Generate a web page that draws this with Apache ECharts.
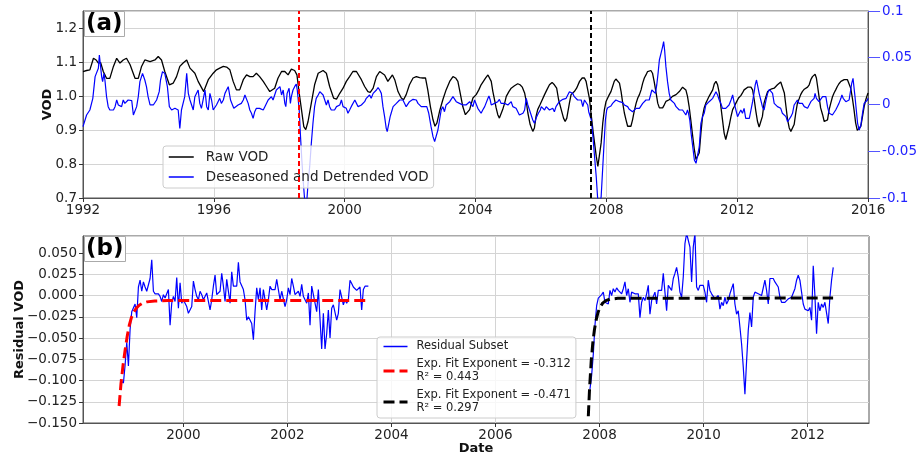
<!DOCTYPE html>
<html><head><meta charset="utf-8">
<script src="https://cdn.jsdelivr.net/npm/echarts@6/dist/echarts.min.js"></script>
<style>html,body{margin:0;padding:0;background:#fff}#c{width:920px;height:457px}</style>
</head><body><div id="c"></div>
<script>
// ---------- DATA ----------
// Panel (a): raw VOD, [decimal year, VOD] (left axis)
const rawVOD = [
[1992.0,1.072],[1992.11,1.075],[1992.21,1.077],[1992.32,1.111],[1992.40,1.106],[1992.47,1.097],[1992.54,1.098],[1992.62,1.072],[1992.72,1.052],[1992.82,1.052],[1992.93,1.087],[1993.03,1.111],[1993.13,1.097],[1993.23,1.106],[1993.33,1.111],[1993.44,1.092],[1993.59,1.052],[1993.69,1.052],[1993.79,1.087],[1993.89,1.106],[1994.05,1.101],[1994.20,1.106],[1994.30,1.116],[1994.40,1.106],[1994.50,1.072],[1994.64,1.033],[1994.76,1.038],[1994.86,1.057],[1994.96,1.087],[1995.06,1.097],[1995.17,1.106],[1995.27,1.082],[1995.42,1.067],[1995.52,1.043],[1995.69,1.013],[1995.83,1.048],[1995.98,1.067],
[1996.08,1.077],[1996.18,1.082],[1996.29,1.087],[1996.39,1.085],[1996.44,1.089],[1996.49,1.077],[1996.59,1.043],[1996.69,1.018],[1996.74,1.013],[1996.79,1.018],[1996.90,1.048],[1997.00,1.062],[1997.10,1.057],[1997.20,1.057],[1997.30,1.067],[1997.40,1.057],[1997.51,1.043],[1997.61,1.028],[1997.71,1.013],[1997.76,1.013],[1997.86,1.023],[1997.96,1.052],[1998.07,1.072],[1998.12,1.077],[1998.17,1.072],[1998.27,1.062],[1998.37,1.079],[1998.47,1.075],[1998.54,1.062],[1998.61,1.008],[1998.68,0.959],[1998.75,0.910],[1998.81,0.901],[1998.88,0.925],[1998.98,0.979],[1999.08,1.033],[1999.19,1.067],[1999.34,1.075],[1999.44,1.067],[1999.54,1.028],[1999.66,0.994],[1999.75,0.991],[1999.85,1.008],
[1999.95,1.023],[2000.05,1.043],[2000.15,1.057],[2000.25,1.072],[2000.36,1.072],[2000.41,1.067],[2000.51,1.048],[2000.61,1.028],[2000.71,1.013],[2000.78,1.011],[2000.87,1.023],[2000.97,1.057],[2001.07,1.072],[2001.12,1.074],[2001.22,1.062],[2001.32,1.043],[2001.37,1.048],[2001.46,1.062],[2001.53,1.048],[2001.63,1.013],[2001.73,0.994],[2001.80,0.989],[2001.88,1.004],[2001.98,1.033],[2002.09,1.053],[2002.19,1.057],[2002.29,1.054],[2002.39,1.053],[2002.47,1.053],[2002.54,1.018],[2002.62,0.969],[2002.70,0.930],[2002.76,0.911],[2002.82,0.921],[2002.90,0.955],[2003.00,0.989],[2003.10,1.018],[2003.21,1.043],[2003.31,1.057],[2003.39,1.053],[2003.46,1.043],[2003.53,1.009],[2003.61,0.969],[2003.69,0.945],[2003.74,0.940],[2003.82,0.960],[2003.92,0.994],[2004.02,1.004],
[2004.10,1.018],[2004.17,1.033],[2004.24,1.043],[2004.31,1.053],[2004.38,1.062],[2004.43,1.057],[2004.48,1.043],[2004.53,1.013],[2004.58,0.989],[2004.63,0.965],[2004.68,0.945],[2004.73,0.935],[2004.78,0.940],[2004.83,0.960],[2004.89,0.979],[2004.94,0.999],[2005.02,1.013],[2005.09,1.023],[2005.19,1.030],[2005.29,1.036],[2005.36,1.033],[2005.43,1.026],[2005.50,1.009],[2005.55,0.984],[2005.60,0.950],[2005.67,0.916],[2005.75,0.896],[2005.80,0.906],[2005.85,0.940],[2005.90,0.960],[2005.97,0.974],[2006.04,0.989],[2006.11,1.004],[2006.18,1.018],[2006.26,1.033],[2006.34,1.040],[2006.41,1.033],[2006.48,1.023],[2006.54,0.989],[2006.62,0.960],[2006.69,0.935],[2006.74,0.925],[2006.79,0.935],[2006.87,0.979],[2006.92,1.004],[2007.02,1.013],[2007.09,1.023],[2007.18,1.043],[2007.26,1.053],[2007.33,1.053],[2007.38,1.043],[2007.43,1.018],[2007.48,0.994],[2007.53,0.950],[2007.60,0.891],[2007.69,0.823],[2007.74,0.793],
[2007.84,0.862],[2007.89,0.921],[2007.94,0.960],[2007.99,0.984],[2008.04,0.994],[2008.09,1.004],[2008.14,1.013],[2008.19,1.028],[2008.24,1.043],[2008.29,1.050],[2008.35,1.048],[2008.40,1.038],[2008.45,1.013],[2008.50,0.979],[2008.55,0.950],[2008.60,0.930],[2008.65,0.911],[2008.70,0.906],[2008.75,0.911],[2008.80,0.930],[2008.85,0.955],[2008.91,0.979],[2008.96,0.994],[2009.01,1.004],[2009.06,1.018],[2009.11,1.038],[2009.16,1.053],[2009.21,1.062],[2009.26,1.072],[2009.31,1.075],[2009.36,1.075],[2009.41,1.067],[2009.46,1.043],[2009.52,1.009],[2009.57,0.979],[2009.62,0.965],[2009.67,0.962],[2009.72,0.965],[2009.77,0.974],[2009.82,0.984],[2009.92,0.989],[2010.02,0.999],[2010.13,1.004],[2010.23,1.013],[2010.33,1.026],[2010.38,1.026],[2010.43,1.018],[2010.48,0.999],[2010.53,0.969],[2010.58,0.930],[2010.64,0.881],[2010.69,0.842],[2010.74,0.813],[2010.79,0.808],[2010.84,0.833],[2010.89,0.891],[2010.94,0.940],[2010.99,0.965],[2011.04,0.979],[2011.09,0.989],[2011.14,0.999],[2011.25,1.018],[2011.30,1.036],[2011.35,1.043],[2011.40,1.033],[2011.45,1.009],[2011.50,0.969],[2011.55,0.930],[2011.60,0.891],[2011.65,0.872],[2011.70,0.877],[2011.75,0.911],[2011.81,0.940],[2011.86,0.960],[2011.91,0.969],[2011.96,0.979],[2012.04,0.994],
[2012.11,1.001],[2012.16,1.009],[2012.21,1.018],[2012.26,1.023],[2012.32,1.026],[2012.37,1.030],[2012.42,1.026],[2012.47,1.018],[2012.52,0.989],[2012.57,0.955],[2012.62,0.925],[2012.67,0.909],[2012.72,0.911],[2012.77,0.940],[2012.82,0.979],[2012.88,0.999],[2012.93,1.013],[2012.98,1.018],[2013.03,1.020],[2013.08,1.018],[2013.13,1.023],[2013.18,1.028],[2013.23,1.033],[2013.28,1.038],[2013.33,1.041],[2013.38,1.036],[2013.44,1.009],[2013.49,0.969],[2013.54,0.930],[2013.59,0.906],[2013.64,0.896],[2013.69,0.893],[2013.74,0.916],[2013.79,0.950],[2013.84,0.979],[2013.89,0.991],[2013.94,1.004],[2013.99,1.013],[2014.05,1.020],[2014.10,1.023],[2014.15,1.026],[2014.20,1.033],[2014.25,1.048],[2014.30,1.057],[2014.35,1.062],[2014.38,1.064],[2014.42,1.053],[2014.45,1.033],[2014.50,0.999],[2014.55,0.965],[2014.61,0.945],[2014.66,0.925],[2014.71,0.921],[2014.76,0.930],[2014.81,0.960],[2014.86,0.979],[2014.91,0.997],[2014.96,1.009],[2015.01,1.018],[2015.06,1.028],[2015.11,1.036],[2015.17,1.043],[2015.22,1.046],[2015.27,1.048],[2015.32,1.050],[2015.37,1.048],[2015.42,1.043],[2015.47,1.023],[2015.52,0.994],[2015.57,0.960],[2015.62,0.921],[2015.67,0.899],[2015.73,0.896],[2015.78,0.911],[2015.83,0.940],[2015.88,0.969],[2015.93,0.989],[2015.98,1.004],[2016.0,1.009]
];
// Panel (a): deseasoned and detrended VOD, [decimal year, anomaly] (right axis)
const deseasonedVOD = [
[1992.0,-0.0237],[1992.11,-0.0112],[1992.16,-0.0094],[1992.21,-0.0059],[1992.30,0.0066],[1992.37,0.0298],[1992.42,0.0316],[1992.47,0.0387],[1992.50,0.0529],[1992.54,0.0529],[1992.57,0.0298],[1992.60,0.0244],[1992.64,0.0333],[1992.67,0.0262],[1992.72,0.0084],[1992.77,-0.0023],[1992.82,-0.0059],[1992.93,-0.0059],[1992.98,-0.0023],[1993.03,0.0048],[1993.08,-0.0005],[1993.13,0.0012],[1993.18,-0.0023],[1993.23,0.0048],[1993.28,0.0012],[1993.33,0.003],[1993.38,0.0048],[1993.49,0.0041],[1993.54,-0.0112],[1993.59,-0.0123],[1993.64,-0.0023],[1993.69,0.0084],[1993.74,0.0244],[1993.82,0.0333],[1993.89,0.0262],[1993.94,0.0191],[1993.99,0.0084],[1994.05,-0.0005],[1994.15,-0.0005],[1994.25,0.0048],[1994.33,0.0137],[1994.37,0.0262],[1994.43,0.0351],[1994.50,0.0333],[1994.58,0.0191],[1994.64,-0.0023],[1994.71,-0.0059],[1994.81,-0.0041],[1994.91,-0.0059],[1994.96,-0.0255],[1995.01,-0.0059],[1995.11,0.0084],[1995.17,0.0333],[1995.22,0.0119],[1995.27,0.0048],[1995.37,-0.0059],[1995.42,0.0084],[1995.52,0.0155],[1995.57,0.0012],[1995.62,-0.0041],[1995.67,0.0048],[1995.73,0.0155],[1995.78,-0.0023],[1995.83,-0.0059],[1995.88,0.0119],[1995.93,0.0048],[1995.98,-0.0059],
[1996.03,-0.0059],[1996.08,-0.0005],[1996.13,-0.0023],[1996.18,0.0066],[1996.23,0.0012],[1996.29,0.0048],[1996.34,0.0119],[1996.39,0.0155],[1996.44,0.0191],[1996.47,0.0209],[1996.51,0.0048],[1996.57,-0.0005],[1996.61,-0.0041],[1996.67,-0.0023],[1996.74,-0.0005],[1996.79,-0.0023],[1996.84,0.0012],[1996.90,0.0048],[1996.95,0.0102],[1997.00,0.0119],[1997.05,0.0012],[1997.10,-0.0059],[1997.15,-0.0094],[1997.20,-0.0148],[1997.25,-0.0077],[1997.30,-0.0041],[1997.35,-0.0023],[1997.40,-0.0041],[1997.51,-0.0059],[1997.56,-0.0023],[1997.61,-0.0005],[1997.66,0.0048],[1997.71,0.0066],[1997.76,0.0084],[1997.81,0.0048],[1997.86,0.0066],[1997.91,0.0155],[1997.96,0.0173],[1998.02,0.0191],[1998.07,0.0102],[1998.12,0.0155],[1998.17,0.0012],[1998.20,-0.0023],[1998.24,0.0119],[1998.30,0.0173],[1998.34,0.0012],[1998.37,0.0084],[1998.42,0.0155],[1998.47,0.0191],[1998.52,0.0219],[1998.55,0.0155],[1998.61,-0.0059],[1998.65,-0.0344],[1998.69,-0.0594],[1998.73,-0.0808],[1998.78,-0.104],[1998.83,-0.109],[1998.88,-0.0843],[1998.93,-0.0665],[1998.98,-0.0415],[1999.03,-0.0201],[1999.08,-0.0023],[1999.13,0.0066],[1999.19,0.0102],[1999.24,0.0137],[1999.29,0.0119],[1999.34,0.0102],[1999.39,0.0048],[1999.44,-0.0005],[1999.49,0.0048],[1999.54,-0.0023],[1999.59,-0.0059],[1999.64,-0.0041],[1999.69,-0.0059],[1999.75,-0.0023],[1999.80,-0.0041],[1999.85,-0.0005],[1999.90,0.0048],
[1999.95,-0.0023],[2000.00,-0.0005],[2000.05,-0.0041],[2000.10,-0.0094],[2000.15,-0.0059],[2000.20,-0.0023],[2000.25,-0.0005],[2000.31,0.0048],[2000.36,0.0012],[2000.41,-0.0023],[2000.46,-0.0041],[2000.51,-0.0005],[2000.56,0.0012],[2000.61,0.003],[2000.66,0.0066],[2000.71,0.0084],[2000.76,0.0102],[2000.81,0.0066],[2000.87,0.0119],[2000.92,0.0102],[2000.97,0.0155],[2001.02,0.018],[2001.07,0.0155],[2001.12,0.0119],[2001.17,-0.0023],[2001.22,-0.013],[2001.27,-0.0255],[2001.30,-0.029],[2001.35,-0.0201],[2001.39,-0.013],[2001.42,-0.0094],[2001.48,-0.0023],[2001.53,-0.0041],[2001.58,0.0012],[2001.63,-0.0005],[2001.68,0.0048],[2001.73,0.0066],[2001.78,0.0048],[2001.83,0.003],[2001.88,-0.0023],[2001.93,-0.0005],[2001.98,0.003],[2002.03,0.0048],[2002.09,0.0055],[2002.14,0.0066],[2002.19,0.0048],[2002.24,0.0012],[2002.29,0.003],[2002.34,-0.0023],[2002.39,-0.0041],[2002.44,-0.0023],[2002.51,-0.0023],[2002.57,-0.0094],[2002.64,-0.0237],[2002.70,-0.0344],[2002.75,-0.0397],[2002.80,-0.038],[2002.85,-0.0273],[2002.90,-0.0166],[2002.95,-0.0059],[2003.00,-0.0023],[2003.05,-0.0077],[2003.10,-0.0005],[2003.15,-0.0023],[2003.21,0.003],[2003.26,0.0048],[2003.31,0.0084],[2003.36,0.0066],[2003.41,0.003],[2003.46,0.0048],[2003.51,0.0012],[2003.56,0.003],[2003.61,-0.0005],[2003.66,0.0012],[2003.71,-0.0005],[2003.77,-0.0005],[2003.82,0.003],[2003.87,0.0048],[2003.92,-0.0023],
[2003.97,0.0048],[2004.02,0.003],[2004.07,-0.0041],[2004.12,-0.0059],[2004.17,-0.0094],[2004.22,-0.0059],[2004.28,-0.0023],[2004.33,-0.0005],[2004.38,0.0066],[2004.41,0.0091],[2004.45,0.0048],[2004.48,-0.0005],[2004.53,-0.0005],[2004.58,0.0012],[2004.63,-0.0005],[2004.68,0.003],[2004.73,0.0055],[2004.78,0.0012],[2004.83,-0.0005],[2004.89,0.0012],[2004.94,0.002],[2004.99,-0.0005],[2005.04,0.0012],[2005.09,0.003],[2005.14,-0.0023],[2005.19,-0.0023],[2005.24,-0.0041],[2005.29,-0.0059],[2005.34,-0.0112],[2005.39,-0.0112],[2005.45,-0.0094],[2005.50,-0.0059],[2005.55,0.0066],[2005.60,-0.0005],[2005.65,-0.0059],[2005.70,-0.0112],[2005.75,-0.0166],[2005.80,-0.0201],[2005.83,-0.0201],[2005.87,-0.013],[2005.92,-0.0094],[2005.98,-0.0059],[2006.01,-0.0023],[2006.06,-0.0005],[2006.11,-0.0059],[2006.16,-0.0023],[2006.21,-0.0041],[2006.26,-0.0059],[2006.31,-0.0077],[2006.36,-0.0041],[2006.41,-0.0077],[2006.46,-0.0023],[2006.51,-0.0041],[2006.56,0.003],[2006.62,0.0048],[2006.67,0.0055],[2006.72,0.0066],[2006.77,0.0066],[2006.82,0.0102],[2006.87,0.0137],[2006.92,0.0155],[2006.97,0.0119],[2007.02,0.0084],[2007.07,0.0066],[2007.12,0.0048],[2007.18,0.0066],[2007.23,0.0048],[2007.28,-0.0023],[2007.33,0.0048],[2007.38,0.003],[2007.43,-0.0005],[2007.46,-0.0077],[2007.50,-0.0094],[2007.54,-0.0166],[2007.58,-0.0308],[2007.63,-0.0522],[2007.69,-0.0772],[2007.73,-0.0986],[2007.77,-0.113],[2007.84,-0.0986],[2007.89,-0.0665],[2007.93,-0.041],[2007.97,-0.0166],[2008.01,-0.0059],
[2008.04,-0.0034],[2008.09,-0.0023],[2008.14,-0.0016],[2008.19,0.0012],[2008.24,0.003],[2008.29,0.0048],[2008.35,0.0041],[2008.40,0.003],[2008.45,0.0048],[2008.50,0.002],[2008.55,-0.0005],[2008.60,0.0002],[2008.65,-0.0023],[2008.70,-0.0052],[2008.75,-0.0059],[2008.80,-0.0077],[2008.85,-0.0059],[2008.91,-0.0041],[2008.96,-0.0059],[2009.01,-0.0041],[2009.06,-0.0023],[2009.11,0.0012],[2009.16,0.003],[2009.21,0.0048],[2009.26,0.003],[2009.31,0.0048],[2009.36,0.0066],[2009.39,0.0155],[2009.43,0.0137],[2009.50,0.0119],[2009.54,0.0209],[2009.58,0.0333],[2009.62,0.0476],[2009.67,0.0547],[2009.72,0.0619],[2009.75,0.0672],[2009.78,0.0583],[2009.82,0.0405],[2009.87,0.0244],[2009.92,0.0119],[2009.97,0.0048],[2010.02,0.003],[2010.08,0.0012],[2010.13,-0.0023],[2010.18,-0.0041],[2010.23,-0.0059],[2010.28,-0.0077],[2010.33,-0.0059],[2010.38,-0.0077],[2010.43,-0.0112],[2010.48,-0.0059],[2010.51,-0.0094],[2010.55,-0.0166],[2010.59,-0.0308],[2010.64,-0.0451],[2010.69,-0.0594],[2010.74,-0.0629],[2010.79,-0.0611],[2010.84,-0.0451],[2010.89,-0.0201],[2010.94,-0.013],[2010.99,-0.0094],[2011.04,-0.0005],[2011.09,0.0012],[2011.14,0.003],[2011.20,0.003],[2011.25,0.0066],[2011.30,0.0102],[2011.35,0.0137],[2011.40,0.0102],[2011.45,0.0048],[2011.50,0.0012],[2011.55,-0.0041],[2011.60,-0.0059],[2011.65,-0.0041],[2011.70,-0.0023],[2011.75,-0.0005],[2011.81,0.0048],[2011.86,0.0102],[2011.91,0.0012],[2011.96,-0.0059],[2012.01,-0.013],[2012.06,-0.0094],
[2012.11,-0.0059],[2012.16,-0.0094],[2012.21,-0.0041],[2012.26,-0.0148],[2012.32,-0.013],[2012.37,-0.0148],[2012.42,-0.0059],[2012.47,0.003],[2012.52,0.0137],[2012.55,0.0209],[2012.59,0.0262],[2012.63,0.0191],[2012.67,0.0119],[2012.72,0.0048],[2012.77,-0.0023],[2012.82,-0.0059],[2012.88,0.0048],[2012.93,0.0119],[2012.98,0.0162],[2013.03,0.0155],[2013.08,0.0119],[2013.13,0.0012],[2013.18,-0.0005],[2013.23,-0.0023],[2013.28,-0.0023],[2013.33,-0.0041],[2013.38,-0.0094],[2013.44,-0.0077],[2013.49,-0.013],[2013.54,-0.0184],[2013.59,-0.0166],[2013.64,-0.013],[2013.69,-0.0094],[2013.74,-0.0005],[2013.79,0.0012],[2013.84,0.0048],[2013.89,0.0012],[2013.94,-0.0005],[2013.99,0.0012],[2014.05,-0.0023],[2014.10,-0.0005],[2014.15,-0.0041],[2014.20,-0.0059],[2014.25,0.003],[2014.30,0.0048],[2014.35,0.0066],[2014.38,0.0119],[2014.42,0.0066],[2014.45,0.0048],[2014.50,0.003],[2014.55,0.0012],[2014.61,0.0084],[2014.66,0.0066],[2014.71,0.0084],[2014.76,-0.0023],[2014.81,-0.0094],[2014.86,-0.0112],[2014.91,-0.0112],[2014.96,-0.0094],[2015.01,-0.0059],[2015.06,-0.0023],[2015.11,0.0012],[2015.17,0.0066],[2015.20,0.0102],[2015.24,0.0066],[2015.27,0.0048],[2015.32,0.003],[2015.37,0.0012],[2015.42,0.0048],[2015.47,0.0066],[2015.50,0.0226],[2015.54,0.028],[2015.57,0.0262],[2015.60,0.0084],[2015.64,-0.0059],[2015.68,-0.0201],[2015.73,-0.0273],[2015.78,-0.0219],[2015.83,-0.0094],[2015.88,0.0012],[2015.93,0.003],[2015.98,0.0048],[2016.0,0.0066]
];
const breakYears = [1998.59, 2007.53];

// Panel (b): residual subsets, regularly sampled from a start date
const residualStep = 0.03203; // years between samples
const residual1Start = 1998.783;
const residual1 = [
-0.099,-0.101,-0.103,-0.082,-0.055,-0.083,-0.040,-0.019,-0.019,-0.010,
-0.026,0.010,0.018,0.005,0.016,0.010,0.005,0.003,0.020,0.042,
0.005,0.002,0.004,0.002,-0.001,-0.007,0.001,-0.003,-0.001,0.007,
-0.035,-0.009,-0.001,-0.007,0.021,-0.015,0.015,-0.009,-0.005,-0.009,
-0.013,-0.021,-0.019,-0.013,0.017,0.007,-0.001,-0.005,0.005,0.001,
-0.005,-0.003,0.003,0.005,-0.017,-0.005,0.011,0.024,0.001,0.001,
0.005,0.026,0.011,-0.007,0.019,0.019,-0.009,0.028,0.011,0.011,
0.011,0.039,0.016,0.016,0.007,-0.005,-0.029,-0.025,-0.027,-0.033,
-0.052,-0.019,0.009,-0.005,0.009,-0.017,0.007,0.005,-0.017,-0.005,
0.011,0.007,0.005,0.007,0.019,0.007,-0.005,0.005,0.003,-0.013,
-0.005,0.009,0.001,0.020,0.011,0.001,-0.001,0.005,-0.001,0.013,
-0.001,-0.005,-0.009,0.003,-0.035,0.011,0.011,-0.009,-0.019,0.007,
0.005,-0.063,-0.021,-0.063,-0.045,-0.017,-0.050,-0.015,-0.011,-0.011,
-0.029,-0.021,0.007,0.005,-0.011,-0.005,-0.009,-0.005,0.018,0.014,
0.010,0.008,0.006,0.004,0.010,-0.017,0.007,0.011,0.011,0.011];
const residual2Start = 2007.816;
const residual2 = [
-0.110,-0.094,-0.069,-0.035,-0.012,-0.003,-0.001,0.001,0.004,-0.008,
-0.006,-0.010,0.006,0.000,0.008,0.004,0.009,0.006,0.008,0.002,
0.008,0.016,0.000,0.008,-0.008,0.004,0.002,0.002,0.000,0.002,
-0.026,-0.008,-0.002,-0.006,0.002,0.012,-0.022,-0.006,-0.004,0.004,
-0.010,0.006,0.004,0.006,0.026,0.004,-0.018,0.012,0.014,0.006,
0.020,0.026,0.033,0.022,0.004,-0.002,0.022,0.061,0.073,0.065,
0.057,0.016,0.057,0.073,0.010,0.006,0.012,0.014,0.012,0.004,
-0.008,0.018,0.006,0.002,0.002,-0.004,-0.006,0.000,-0.016,-0.008,
-0.012,-0.002,-0.010,-0.006,0.002,0.004,0.014,-0.010,-0.022,-0.018,
-0.037,-0.057,-0.084,-0.116,-0.077,-0.041,-0.020,-0.037,-0.002,0.004,
0.002,0.002,0.002,0.000,0.002,0.018,0.006,-0.010,0.020,0.022,
0.020,0.016,0.014,0.010,-0.002,-0.008,-0.010,-0.008,-0.006,-0.004,
-0.006,-0.002,-0.004,0.008,0.018,0.024,0.018,0.004,-0.010,-0.016,
-0.016,-0.018,-0.014,-0.029,0.035,0.000,-0.045,-0.008,-0.018,-0.010,
-0.014,-0.008,-0.009,-0.033,-0.002,0.018,0.033];
// Exponential fit curves, [year, value]
const fitRed = [[1998.764,-0.130],[1998.80,-0.104],[1998.84,-0.082],[1998.88,-0.064],[1998.92,-0.048],[1998.96,-0.035],[1999.00,-0.026],[1999.05,-0.019],[1999.10,-0.0145],[1999.15,-0.0115],[1999.22,-0.009],[1999.30,-0.0075],[1999.45,-0.0065],[1999.70,-0.006],[2003.555,-0.006]];
const fitBlack = [[2007.784,-0.142],[2007.81,-0.107],[2007.84,-0.077],[2007.87,-0.056],[2007.90,-0.041],[2007.93,-0.030],[2007.97,-0.020],[2008.01,-0.014],[2008.06,-0.009],[2008.12,-0.0061],[2008.20,-0.0043],[2008.35,-0.0033],[2012.49,-0.003]];
const fitLabels = {
  'Residual Subset': 'Residual Subset',
  'fit1': 'Exp. Fit Exponent = -0.312\nR\u00b2 = 0.443',
  'fit2': 'Exp. Fit Exponent = -0.471\nR\u00b2 = 0.297'
};
const bottomXTicks = [2000, 2002, 2004, 2006, 2008, 2010, 2012];

// ---------- CHART ----------
const FONT = 'DejaVu Sans';
const res1 = residual1.map((v, i) => [residual1Start + i * residualStep, v]);
const res2 = residual2.map((v, i) => [residual2Start + i * residualStep, v]);
const gridLine = {show: true, lineStyle: {color: '#d4d4d4', width: 1}};
const axisLineDark = {show: true, onZero: false, lineStyle: {color: '#555', width: 1}};
const tickDark = {show: true, length: 4, lineStyle: {color: '#333'}};
const lbl = {fontSize: 13.5, color: '#222', fontFamily: FONT};
const nameStyle = {fontSize: 13, fontWeight: 'bold', color: '#111', fontFamily: FONT};
const minusFmt = v => Math.abs(v) < 1e-9 ? '0.000' : (v < 0 ? '\u2212' : '') + Math.abs(v).toFixed(3);
const hiddenSymbol = {color: 'rgba(0,0,0,0)', borderWidth: 0, borderColor: 'rgba(0,0,0,0)', opacity: 0};

const chart = echarts.init(document.getElementById('c'), null, {renderer: 'canvas'});
chart.setOption({
  animation: false,
  textStyle: {fontFamily: FONT},
  title: [
    {text: '(a)', left: 84, top: 11, padding: [1, 2, 1, 2], backgroundColor: '#fff', borderColor: '#aaa', borderWidth: 1,
     textStyle: {fontSize: 23, fontWeight: 'bold', color: '#000', fontFamily: FONT, lineHeight: 24}},
    {text: '(b)', left: 84, top: 236, padding: [1, 2, 1, 2], backgroundColor: '#fff', borderColor: '#aaa', borderWidth: 1,
     textStyle: {fontSize: 23, fontWeight: 'bold', color: '#000', fontFamily: FONT, lineHeight: 24}}
  ],
  grid: [
    {left: 83, top: 11, width: 786, height: 187, show: true, borderColor: '#555', borderWidth: 1, backgroundColor: 'transparent'},
    {left: 83, top: 236, width: 786, height: 187, show: true, borderColor: '#555', borderWidth: 1, backgroundColor: 'transparent'}
  ],
  legend: [
    {left: 163, top: 146, orient: 'vertical', itemWidth: 25, itemHeight: 14, itemGap: 4, padding: [3, 5, 3, 5],
     backgroundColor: 'rgba(255,255,255,0.8)', borderColor: '#ccc', borderWidth: 1, borderRadius: 3,
     itemStyle: hiddenSymbol, lineStyle: {width: 1.5},
     textStyle: {fontSize: 13.5, color: '#222', lineHeight: 16, fontFamily: FONT, padding: [0, 0, 0, 7]},
     data: ['Raw VOD', 'Deseasoned and Detrended VOD']},
    {left: 377, top: 337, orient: 'vertical', itemWidth: 24, itemHeight: 13, itemGap: 5, padding: [3, 5, 3, 5],
     backgroundColor: 'rgba(255,255,255,0.8)', borderColor: '#ccc', borderWidth: 1, borderRadius: 3,
     itemStyle: hiddenSymbol,
     textStyle: {fontSize: 11.5, color: '#222', lineHeight: 13, fontFamily: FONT, padding: [0, 0, 0, 4]},
     formatter: n => fitLabels[n] || n,
     data: [
       {name: 'Residual Subset', lineStyle: {width: 1.5}},
       {name: 'fit1', lineStyle: {width: 3}},
       {name: 'fit2', lineStyle: {width: 3}}
     ]}
  ],
  xAxis: [
    {type: 'value', gridIndex: 0, min: 1992, max: 2016, interval: 4,
     axisLine: axisLineDark, axisTick: tickDark, splitLine: gridLine,
     axisLabel: Object.assign({formatter: v => String(v), margin: 5}, lbl)},
    {type: 'value', gridIndex: 1, min: 1998.07, max: 2013.18,
     axisLine: axisLineDark, axisTick: Object.assign({customValues: bottomXTicks}, tickDark), splitLine: gridLine,
     axisLabel: Object.assign({customValues: bottomXTicks, formatter: v => String(v), margin: 5}, lbl),
     name: 'Date', nameLocation: 'middle', nameGap: 19, nameMoveOverlap: false, nameTextStyle: nameStyle}
  ],
  yAxis: [
    {type: 'value', gridIndex: 0, position: 'left', min: 0.7, max: 1.25, interval: 0.1,
     axisLine: axisLineDark, axisTick: tickDark, splitLine: gridLine,
     axisLabel: Object.assign({formatter: v => v.toFixed(1), showMaxLabel: false, margin: 6}, lbl),
     name: 'VOD', nameLocation: 'middle', nameGap: 29, nameMoveOverlap: false, nameTextStyle: nameStyle},
    {type: 'value', gridIndex: 0, position: 'right', min: -0.1, max: 0.1, interval: 0.05,
     axisLine: {show: true, onZero: false, lineStyle: {color: '#555'}},
     axisTick: {show: true, length: 12, lineStyle: {color: '#5555ff'}},
     splitLine: {show: false},
     axisLabel: {fontSize: 13.5, color: '#2222ff', fontFamily: FONT, margin: 14}},
    {type: 'value', gridIndex: 1, min: -0.15, max: 0.07, interval: 0.025,
     axisLine: axisLineDark, axisTick: tickDark, splitLine: gridLine,
     axisLabel: Object.assign({formatter: minusFmt, showMaxLabel: false, margin: 6}, lbl),
     name: 'Residual VOD', nameLocation: 'middle', nameGap: 57, nameMoveOverlap: false, nameTextStyle: nameStyle}
  ],
  series: [
    {name: 'Raw VOD', type: 'line', xAxisIndex: 0, yAxisIndex: 0, data: rawVOD, symbol: 'none',
     lineStyle: {color: '#000', width: 1.3}, itemStyle: {color: '#000'},
     markLine: {silent: true, symbol: ['none', 'none'], label: {show: false}, animation: false,
       data: [
         {xAxis: breakYears[0], lineStyle: {color: '#ff0000', type: [5, 3], width: 2}},
         {xAxis: breakYears[1], lineStyle: {color: '#000000', type: [5, 3], width: 2}}
       ]}},
    {name: 'Deseasoned and Detrended VOD', type: 'line', xAxisIndex: 0, yAxisIndex: 1, data: deseasonedVOD, symbol: 'none',
     lineStyle: {color: '#0000ff', width: 1.2}, itemStyle: {color: '#0000ff'}},
    {name: 'Residual Subset', type: 'line', xAxisIndex: 1, yAxisIndex: 2, data: res1, symbol: 'none',
     lineStyle: {color: '#0000ff', width: 1.2}, itemStyle: {color: '#0000ff'}},
    {name: 'Residual Subset', type: 'line', xAxisIndex: 1, yAxisIndex: 2, data: res2, symbol: 'none',
     lineStyle: {color: '#0000ff', width: 1.2}, itemStyle: {color: '#0000ff'}},
    {name: 'fit1', type: 'line', xAxisIndex: 1, yAxisIndex: 2, data: fitRed, symbol: 'none',
     lineStyle: {color: '#ff0000', width: 3, type: [11, 5]}, itemStyle: {color: '#ff0000'}},
    {name: 'fit2', type: 'line', xAxisIndex: 1, yAxisIndex: 2, data: fitBlack, symbol: 'none',
     lineStyle: {color: '#000000', width: 3, type: [11, 5]}, itemStyle: {color: '#000000'}}
  ]
});
</script>
</body></html>
